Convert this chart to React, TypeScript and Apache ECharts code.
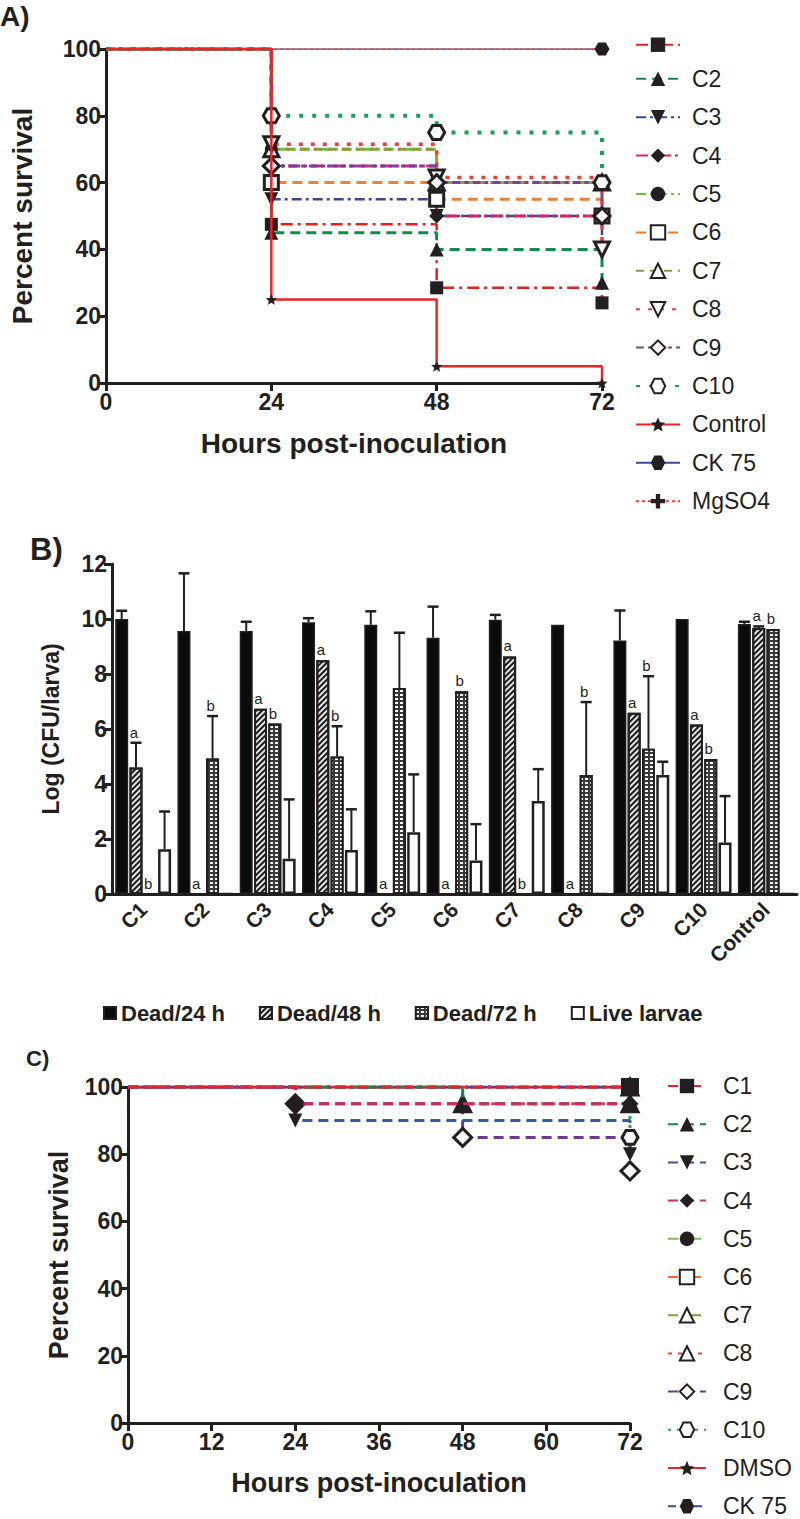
import React, { useEffect, useRef } from 'react';
import * as echarts from 'echarts';

const FONT = '"Liberation Sans", Arial, Helvetica, sans-serif';
const INK = '#231f20';

// ---------- Panel A: survival (Kaplan-Meier), points = [hour, % survival] ----------
const A_C1 = [[0, 100], [24, 47.5], [48, 28.5], [72, 24]];
const A_C2 = [[0, 100], [24, 45], [48, 40], [72, 30]];
const A_C3 = [[0, 100], [24, 55], [48, 50], [72, 40]];
const A_C4 = [[0, 100], [24, 65], [48, 50], [72, 50]];
const A_C5 = [[0, 100], [24, 70], [48, 60], [72, 60]];
const A_C6 = [[0, 100], [24, 60], [48, 55], [72, 50]];
const A_C7 = [[0, 100], [24, 70], [48, 60], [72, 60]];
const A_C8 = [[0, 100], [24, 71.5], [48, 61.5], [72, 40]];
const A_C9 = [[0, 100], [24, 65], [48, 60], [72, 50]];
const A_C10 = [[0, 100], [24, 80], [48, 75], [72, 60]];
const A_CONTROL = [[0, 100], [24, 25], [48, 5], [72, 0]];
const A_CK75 = [[0, 100], [72, 100]];
const A_MGSO4 = [[0, 100], [72, 100]];
const A_NAMES = ['C1', 'C2', 'C3', 'C4', 'C5', 'C6', 'C7', 'C8', 'C9', 'C10', 'Control', 'CK 75', 'MgSO4'];

// ---------- Panel B: bacterial load ----------
const B_CATS = ['C1', 'C2', 'C3', 'C4', 'C5', 'C6', 'C7', 'C8', 'C9', 'C10', 'Control'];
const B_DEAD24 = [10.0, 9.56, 9.56, 9.88, 9.79, 9.32, 9.97, 9.79, 9.22, 10.0, 9.82];
const B_DEAD24_SD = [0.3, 2.1, 0.34, 0.15, 0.49, 1.13, 0.18, 0, 1.09, 0, 0.08];
const B_DEAD48 = [4.6, 0, 6.74, 8.5, 0, 0, 8.64, 0, 6.59, 6.16, 9.67];
const B_DEAD48_SD = [0.9, 0, 0, 0, 0, 0, 0, 0, 0, 0, 0.06];
const B_DEAD72 = [0, 4.93, 6.2, 5.0, 7.49, 7.37, 0, 4.33, 5.28, 4.91, 9.64];
const B_DEAD72_SD = [0, 1.54, 0, 1.1, 2.01, 0, 0, 2.65, 2.64, 0, 0];
const B_LIVE = [1.63, 0, 1.28, 1.6, 2.25, 1.22, 3.38, 0, 4.33, 1.87, 0];
const B_LIVE_SD = [1.37, 0, 2.16, 1.48, 2.1, 1.32, 1.16, 0, 0.48, 1.69, 0];
const B_LET48 = ['a', 'a', 'a', 'a', 'a', 'a', 'a', 'a', 'a', 'a', 'a'];
const B_LET72 = ['b', 'b', 'b', 'b', '', 'b', 'b', 'b', 'b', 'b', 'b'];
const B_NONE = ['', '', '', '', '', '', '', '', '', '', ''];
const B_SERIES = ['Dead/24 h', 'Dead/48 h', 'Dead/72 h', 'Live larvae'];

// ---------- Panel C: survival (Kaplan-Meier) ----------
const C_C1 = [[0, 100], [72, 100]];
const C_C2 = [[0, 100], [48, 95], [72, 95]];
const C_C3 = [[0, 100], [24, 90], [72, 80]];
const C_C4 = [[0, 100], [24, 95], [72, 95]];
const C_C5 = [[0, 100], [72, 100]];
const C_C6 = [[0, 100], [72, 100]];
const C_C7 = [[0, 100], [72, 100]];
const C_C8 = [[0, 100], [48, 95], [72, 95]];
const C_C9 = [[0, 100], [24, 95], [48, 85], [72, 75]];
const C_C10 = [[0, 100], [72, 85]];
const C_DMSO = [[0, 100], [72, 100]];
const C_CK75 = [[0, 100], [72, 100]];
const C_NAMES = ['C1', 'C2', 'C3', 'C4', 'C5', 'C6', 'C7', 'C8', 'C9', 'C10', 'DMSO', 'CK 75'];

// ---------- styling helpers ----------
const HEX = 'path://M5,0 L15,0 L20,8.66 L15,17.32 L5,17.32 L0,8.66 Z';
const STAR = 'path://M10,0 L12.9,6.9 L20,7.6 L14.6,12.3 L16.2,19.5 L10,15.7 L3.8,19.5 L5.4,12.3 L0,7.6 L7.1,6.9 Z';
const PLUS = 'path://M7,0 H13 V7 H20 V13 H13 V20 H7 V13 H0 V7 H7 Z';

type St = { color: string; width: number; dash: any; symbol: string; size: number; rotate?: number; open?: boolean; z?: number };

function km(name: string, pts: number[][], st: St) {
  return {
    type: 'line',
    name,
    step: 'end',
    data: pts.map((p, i) => (i === 0 ? { value: p, symbol: 'none' } : p)),
    symbol: st.symbol,
    symbolSize: st.size,
    symbolRotate: st.rotate || 0,
    symbolKeepAspect: true,
    showAllSymbol: true,
    lineStyle: { color: st.color, width: st.width, type: st.dash },
    itemStyle: { color: st.open ? '#ffffff' : INK, borderColor: INK, borderWidth: st.open ? 3 : 0 },
    z: st.z ?? 2,
  };
}

const axisLine = { lineStyle: { color: INK, width: 3 } };
const axisTick = { length: 8, lineStyle: { color: INK, width: 3 } };
const tickLabel = (size: number, margin = 6) => ({ color: INK, fontWeight: 'bold', fontSize: size, fontFamily: FONT, margin });
const nameStyle = (size: number) => ({ color: INK, fontWeight: 'bold', fontSize: size, fontFamily: FONT });

// ---------- options ----------
const optionA = {
  animation: false,
  graphic: [{ type: 'text', left: 0, top: 2, style: { text: 'A)', font: `bold 28px ${FONT}`, fill: INK } }],
  grid: { left: 102, top: 49, width: 500, height: 334 },
  xAxis: {
    type: 'value', min: 0, max: 72, interval: 24,
    axisLine, axisTick, axisLabel: tickLabel(23, 7), splitLine: { show: false },
    name: 'Hours post-inoculation', nameLocation: 'middle', nameGap: 46, nameTextStyle: nameStyle(28),
  },
  yAxis: {
    type: 'value', min: 0, max: 100, interval: 20,
    axisLine, axisTick, axisLabel: tickLabel(23, 5), splitLine: { show: false },
    name: 'Percent survival', nameLocation: 'middle', nameRotate: 90, nameGap: 70, nameTextStyle: nameStyle(28),
  },
  legend: {
    orient: 'vertical', left: 635, top: 37.5, padding: 0, itemWidth: 44, itemHeight: 18, itemGap: 15.4,
    data: A_NAMES,
    formatter: (n: string) => (n === 'C1' ? '' : n),
    textStyle: { fontSize: 23, color: INK, fontFamily: FONT, lineHeight: 23, padding: [0, 0, 0, 7] },
  },
  series: [
    km('C1', A_C1, { color: '#e2231a', width: 2.5, dash: [12, 5, 3, 5], symbol: 'rect', size: 13 }),
    km('C2', A_C2, { color: '#138a4a', width: 3, dash: [10, 6], symbol: 'triangle', size: 14 }),
    km('C3', A_C3, { color: '#2e4a9a', width: 2.5, dash: [10, 4, 3, 4], symbol: 'triangle', rotate: 180, size: 14 }),
    km('C4', A_C4, { color: '#d4246e', width: 3, dash: [12, 4, 3, 4], symbol: 'diamond', size: 15 }),
    km('C5', A_C5, { color: '#6dbd45', width: 3, dash: [10, 4, 3, 4], symbol: 'circle', size: 13 }),
    km('C6', A_C6, { color: '#f07f2c', width: 3, dash: [10, 6], symbol: 'rect', size: 14, open: true }),
    km('C7', A_C7, { color: '#8c9a3b', width: 3, dash: [8, 6], symbol: 'triangle', size: 15, open: true }),
    km('C8', A_C8, { color: '#e8413c', width: 3.5, dash: [4, 8], symbol: 'triangle', rotate: 180, size: 15, open: true }),
    km('C9', A_C9, { color: '#7b3fa0', width: 3, dash: [8, 4, 4, 4], symbol: 'diamond', size: 16, open: true }),
    km('C10', A_C10, { color: '#1aa053', width: 4, dash: [4, 9], symbol: HEX, size: 16, open: true }),
    km('Control', A_CONTROL, { color: '#e8262a', width: 2.5, dash: 'solid', symbol: STAR, size: 11, z: 4 }),
    km('CK 75', A_CK75, { color: '#3a4a9a', width: 1.5, dash: 'solid', symbol: HEX, size: 15 }),
    km('MgSO4', A_MGSO4, { color: '#e8413c', width: 1.5, dash: [3, 3], symbol: PLUS, size: 12 }),
  ],
};

const BAR_W = 13;
const BAR_GAP = 1.3;

function errSeries(gi: number, vals: number[], sds: number[], letters: string[]) {
  return {
    type: 'custom',
    name: '__err' + gi,
    coordinateSystem: 'cartesian2d',
    clip: false,
    z: 5,
    encode: { x: 0, y: 1 },
    data: vals.map((v, i) => [i, v, sds[i]]),
    renderItem: (params: any, api: any) => {
      const i = params.dataIndex;
      const v = api.value(1);
      const e = api.value(2);
      const x = api.coord([i, 0])[0] + (gi - 1.5) * (BAR_W + BAR_GAP);
      const yTop = api.coord([i, v])[1];
      const yE = api.coord([i, v + e])[1];
      const children: any[] = [];
      if (e > 0) {
        children.push({ type: 'line', shape: { x1: x, y1: yTop, x2: x, y2: yE }, style: { stroke: INK, lineWidth: 2 } });
        children.push({ type: 'line', shape: { x1: x - 5.5, y1: yE, x2: x + 5.5, y2: yE }, style: { stroke: INK, lineWidth: 2.5 } });
      }
      if (letters[i]) {
        children.push({
          type: 'text', x: x - 2, y: yE - 3,
          style: { text: letters[i], align: 'center', verticalAlign: 'bottom', fontSize: 15, fontFamily: FONT, fill: INK },
        });
      }
      return { type: 'group', children };
    },
  };
}

const optionB = {
  animation: false,
  graphic: [{ type: 'text', left: 30, top: 4, style: { text: 'B)', font: `bold 31px ${FONT}`, fill: INK } }],
  grid: { left: 112, top: 34, width: 685, height: 330 },
  xAxis: {
    type: 'category', data: B_CATS,
    axisLine, axisTick: { ...axisTick, alignWithLabel: false },
    axisLabel: { ...tickLabel(21, 12), rotate: 45, interval: 0 },
  },
  yAxis: {
    type: 'value', min: 0, max: 12, interval: 2,
    axisLine: { show: true, ...axisLine }, axisTick: { show: true, ...axisTick }, axisLabel: tickLabel(23, 5), splitLine: { show: false },
    name: 'Log (CFU/larva)', nameLocation: 'middle', nameRotate: 90, nameGap: 50, nameTextStyle: nameStyle(23),
  },
  legend: {
    left: 103, top: 470, padding: 0, itemWidth: 12, itemHeight: 12, itemGap: 34, icon: 'rect',
    data: B_SERIES,
    textStyle: { fontSize: 22, fontWeight: 'bold', color: INK, fontFamily: FONT, lineHeight: 26 },
  },
  series: [
    { type: 'bar', name: B_SERIES[0], data: B_DEAD24, barWidth: BAR_W, barGap: '10%', itemStyle: { color: '#0b0b0b', borderColor: INK, borderWidth: 1.5 } },
    {
      type: 'bar', name: B_SERIES[1], data: B_DEAD48, barWidth: BAR_W, barGap: '10%',
      itemStyle: {
        color: '#e6e6e6', borderColor: INK, borderWidth: 2,
        decal: { symbol: 'rect', symbolSize: 1, dashArrayX: [1, 0], dashArrayY: [1.6, 1.4], rotation: -Math.PI / 4, color: '#1a1a1a' },
      },
    },
    {
      type: 'bar', name: B_SERIES[2], data: B_DEAD72, barWidth: BAR_W, barGap: '10%',
      itemStyle: {
        color: '#3a3a3a', borderColor: INK, borderWidth: 2,
        decal: { symbol: 'rect', symbolSize: 1, dashArrayX: [2.4, 1.2], dashArrayY: [1.8, 1.2], color: '#ffffff' },
      },
    },
    { type: 'bar', name: B_SERIES[3], data: B_LIVE, barWidth: BAR_W, barGap: '10%', itemStyle: { color: '#ffffff', borderColor: INK, borderWidth: 2.5 } },
    errSeries(0, B_DEAD24, B_DEAD24_SD, B_NONE),
    errSeries(1, B_DEAD48, B_DEAD48_SD, B_LET48),
    errSeries(2, B_DEAD72, B_DEAD72_SD, B_LET72),
    errSeries(3, B_LIVE, B_LIVE_SD, B_NONE),
  ],
};

const optionC = {
  animation: false,
  graphic: [{ type: 'text', left: 26, top: 17, style: { text: 'C)', font: `bold 22px ${FONT}`, fill: INK } }],
  grid: { left: 128, top: 57, width: 502, height: 336 },
  xAxis: {
    type: 'value', min: 0, max: 72, interval: 12,
    axisLine, axisTick, axisLabel: tickLabel(23, 7), splitLine: { show: false },
    name: 'Hours post-inoculation', nameLocation: 'middle', nameGap: 46, nameTextStyle: nameStyle(27),
  },
  yAxis: {
    type: 'value', min: 0, max: 100, interval: 20,
    axisLine, axisTick, axisLabel: tickLabel(23, 5), splitLine: { show: false },
    name: 'Percent survival', nameLocation: 'middle', nameRotate: 90, nameGap: 56, nameTextStyle: nameStyle(27),
  },
  legend: {
    orient: 'vertical', left: 667, top: 44.5, padding: 0, itemWidth: 38, itemHeight: 18, itemGap: 15.2,
    data: C_NAMES,
    textStyle: { fontSize: 23, color: INK, fontFamily: FONT, lineHeight: 23, padding: [0, 0, 0, 12] },
  },
  series: [
    km('C1', C_C1, { color: '#e0262a', width: 3, dash: [10, 5, 3, 5], symbol: 'rect', size: 16, z: 6 }),
    km('C2', C_C2, { color: '#138a48', width: 3, dash: [10, 6], symbol: 'triangle', size: 15, z: 4 }),
    km('C3', C_C3, { color: '#3a57a0', width: 3, dash: [10, 6], symbol: 'triangle', rotate: 180, size: 14 }),
    km('C4', C_C4, { color: '#d12a5c', width: 3, dash: [10, 6], symbol: 'diamond', size: 17, z: 5 }),
    km('C5', C_C5, { color: '#74bf44', width: 3, dash: [10, 5, 3, 5], symbol: 'circle', size: 14 }),
    km('C6', C_C6, { color: '#ef6c2a', width: 3, dash: [10, 5, 3, 5], symbol: 'rect', size: 15, open: true }),
    km('C7', C_C7, { color: '#8a9a3a', width: 3, dash: [10, 5, 3, 5], symbol: 'triangle', size: 16, open: true }),
    km('C8', C_C8, { color: '#e8413c', width: 3, dash: [4, 6], symbol: 'triangle', size: 16, open: true }),
    km('C9', C_C9, { color: '#6b3a96', width: 3, dash: [10, 6], symbol: 'diamond', size: 18, open: true }),
    km('C10', C_C10, { color: '#2aa84a', width: 3, dash: [3, 6], symbol: HEX, size: 16, open: true }),
    km('DMSO', C_DMSO, { color: '#e8262a', width: 3, dash: 'solid', symbol: STAR, size: 12 }),
    km('CK 75', C_CK75, { color: '#3a4a9a', width: 2.5, dash: [8, 5], symbol: HEX, size: 15 }),
  ],
};

function Chart({ top, height, option }: { top: number; height: number; option: any }) {
  const ref = useRef<HTMLDivElement>(null);
  useEffect(() => {
    const chart = echarts.init(ref.current as HTMLDivElement, null, { renderer: 'svg' });
    chart.setOption(option);
    return () => chart.dispose();
  }, [option]);
  return <div ref={ref} style={{ position: 'absolute', left: 0, top, width: 800, height }} />;
}

export default function App() {
  return (
    <div style={{ position: 'absolute', left: 0, top: 0, width: 800, height: 1519, background: '#ffffff', overflow: 'hidden' }}>
      <Chart top={0} height={530} option={optionA} />
      <Chart top={530} height={500} option={optionB} />
      <Chart top={1030} height={510} option={optionC} />
    </div>
  );
}
